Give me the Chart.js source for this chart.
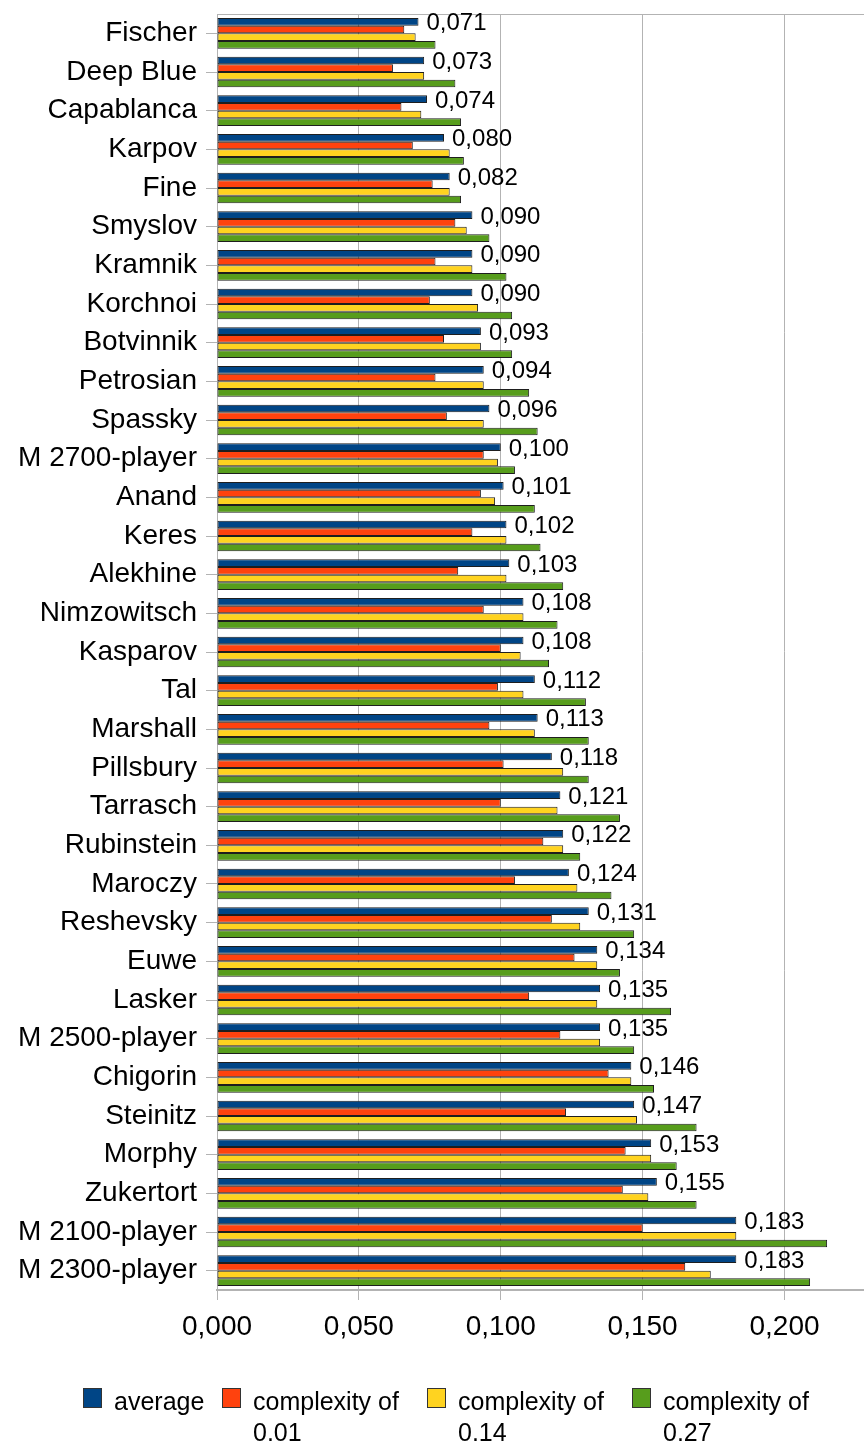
<!DOCTYPE html>
<html>
<head>
<meta charset="utf-8">
<script src="https://cdn.jsdelivr.net/npm/chart.js@4.4.1/dist/chart.umd.min.js"></script>
<style>
  html, body { margin: 0; padding: 0; background: #ffffff; }
  #wrap { position: relative; width: 864px; height: 1448px; }
  #legend { position: absolute; left: 0; top: 1388px; width: 864px; height: 60px;
            font-family: 'Liberation Sans', Arial, sans-serif; font-size: 25px; color: #000; }
  .box { position: absolute; top: 0; width: 19px; height: 20px; border: 1px solid #333; box-sizing: border-box; }
  .txt { position: absolute; top: -2px; line-height: 31px; white-space: nowrap; }
</style>
</head>
<body>
<div id="wrap">
  <canvas id="chart" width="864" height="1448"></canvas>
  <div id="legend"></div>
</div>
<script>
// --- data, top to bottom as in the picture ---
const players = ['Fischer', 'Deep Blue', 'Capablanca', 'Karpov', 'Fine', 'Smyslov', 'Kramnik', 'Korchnoi',
  'Botvinnik', 'Petrosian', 'Spassky', 'M 2700-player', 'Anand', 'Keres', 'Alekhine', 'Nimzowitsch',
  'Kasparov', 'Tal', 'Marshall', 'Pillsbury', 'Tarrasch', 'Rubinstein', 'Maroczy', 'Reshevsky', 'Euwe',
  'Lasker', 'M 2500-player', 'Chigorin', 'Steinitz', 'Morphy', 'Zukertort', 'M 2100-player', 'M 2300-player'];

const average = [0.071, 0.073, 0.074, 0.080, 0.082, 0.090, 0.090, 0.090, 0.093, 0.094, 0.096, 0.100, 0.101,
  0.102, 0.103, 0.108, 0.108, 0.112, 0.113, 0.118, 0.121, 0.122, 0.124, 0.131, 0.134, 0.135, 0.135, 0.146,
  0.147, 0.153, 0.155, 0.183, 0.183];
const complexity001 = [0.066, 0.062, 0.065, 0.069, 0.076, 0.084, 0.077, 0.075, 0.080, 0.077, 0.081, 0.094,
  0.093, 0.090, 0.085, 0.094, 0.100, 0.099, 0.096, 0.101, 0.100, 0.115, 0.105, 0.118, 0.126, 0.110, 0.121,
  0.138, 0.123, 0.144, 0.143, 0.150, 0.165];
const complexity014 = [0.070, 0.073, 0.072, 0.082, 0.082, 0.088, 0.090, 0.092, 0.093, 0.094, 0.094, 0.099,
  0.098, 0.102, 0.102, 0.108, 0.107, 0.108, 0.112, 0.122, 0.120, 0.122, 0.127, 0.128, 0.134, 0.134, 0.135,
  0.146, 0.148, 0.153, 0.152, 0.183, 0.174];
const complexity027 = [0.077, 0.084, 0.086, 0.087, 0.086, 0.096, 0.102, 0.104, 0.104, 0.110, 0.113, 0.105,
  0.112, 0.114, 0.122, 0.120, 0.117, 0.130, 0.131, 0.131, 0.142, 0.128, 0.139, 0.147, 0.142, 0.160, 0.147,
  0.154, 0.169, 0.162, 0.169, 0.215, 0.209];

const seriesNames = ['average', 'complexity of 0.01', 'complexity of 0.14', 'complexity of 0.27'];
const legendLines = [['average'], ['complexity of', '0.01'], ['complexity of', '0.14'], ['complexity of', '0.27']];
const xTicks = [0, 0.05, 0.10, 0.15, 0.20];
const xMax = 0.228;

const colors = ['#004586', '#ff420e', '#ffd320', '#579d1c'];
const FONT = "'Liberation Sans', Arial, sans-serif";

const fmt = v => v.toFixed(3).replace('.', ',');

// value labels next to the "average" bars
const avgLabels = {
  id: 'avgLabels',
  afterDatasetsDraw(chart) {
    const ctx = chart.ctx;
    const meta = chart.getDatasetMeta(0);
    ctx.save();
    ctx.font = '24px ' + FONT;
    ctx.fillStyle = '#000';
    ctx.textAlign = 'left';
    ctx.textBaseline = 'middle';
    meta.data.forEach((bar, i) => {
      ctx.fillText(fmt(average[i]), bar.x + 8, bar.y + 2);
    });
    ctx.restore();
  }
};

const allSeries = [average, complexity001, complexity014, complexity027];

new Chart(document.getElementById('chart'), {
  type: 'bar',
  data: {
    labels: players,
    datasets: allSeries.map((d, i) => ({
      label: seriesNames[i],
      data: d,
      backgroundColor: colors[i],
      borderColor: '#1e1e1e',
      borderWidth: 1,
      borderSkipped: false,
      categoryPercentage: 0.795,
      barPercentage: 1.0
    }))
  },
  options: {
    indexAxis: 'y',
    responsive: false,
    animation: false,
    layout: { padding: { top: 13, left: 0, right: 0, bottom: 80 } },
    plugins: {
      tooltip: { enabled: false },
      legend: { display: false }
    },
    scales: {
      x: {
        type: 'linear',
        min: 0,
        max: xMax,
        afterBuildTicks: s => { s.ticks = xTicks.map(v => ({ value: v })); },
        afterFit: s => { s.height = 78; },
        grid: { color: '#b3b3b3', tickLength: 10 },
        border: { color: '#b3b3b3', width: 2 },
        ticks: {
          font: { family: FONT, size: 28 },
          color: '#000',
          padding: 10,
          maxRotation: 0,
          callback: v => fmt(v)
        }
      },
      xTop: {
        type: 'linear',
        position: 'top',
        min: 0,
        max: xMax,
        grid: { display: false },
        ticks: { display: false },
        border: { color: '#b3b3b3', width: 1 },
        afterFit: s => { s.height = 1; }
      },
      y: {
        type: 'category',
        grid: { offset: false, drawOnChartArea: false, tickLength: 11, color: '#b3b3b3' },
        border: { color: '#b3b3b3', width: 1 },
        afterFit: s => { s.width = 217; s.paddingTop = 0; s.paddingBottom = 0; },
        ticks: {
          font: { family: FONT, size: 28 },
          color: '#000',
          padding: 9,
          autoSkip: false
        }
      }
    }
  },
  plugins: [avgLabels]
});

// legend below the plot
const legendBoxX = [83, 222, 427, 632];
const legendEl = document.getElementById('legend');
legendLines.forEach((lines, i) => {
  const box = document.createElement('div');
  box.className = 'box';
  box.style.left = legendBoxX[i] + 'px';
  box.style.background = colors[i];
  legendEl.appendChild(box);
  const txt = document.createElement('div');
  txt.className = 'txt';
  txt.style.left = (legendBoxX[i] + 31) + 'px';
  txt.innerHTML = lines.join('<br>');
  legendEl.appendChild(txt);
});
</script>
</body>
</html>
